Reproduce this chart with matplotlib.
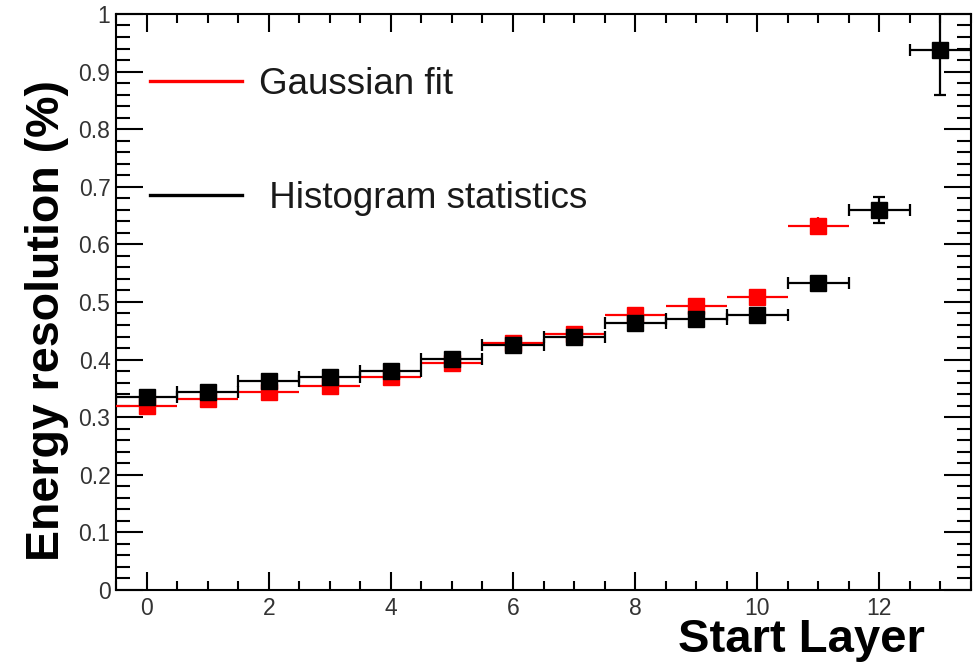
import numpy as np
import matplotlib
matplotlib.use("Agg")
import matplotlib.pyplot as plt
from matplotlib.ticker import MultipleLocator, FuncFormatter

plt.rcParams['font.family'] = ['Liberation Sans', 'DejaVu Sans']

# start layer of the shower
layer_hist = np.arange(14)
layer_fit = np.arange(12)

# resolution from histogram RMS / mean
res_hist = [0.335, 0.343, 0.362, 0.370, 0.381, 0.401, 0.425, 0.440,
            0.463, 0.470, 0.477, 0.533, 0.660, 0.938]
err_hist = [0.004, 0.004, 0.004, 0.004, 0.004, 0.005, 0.005, 0.006,
            0.006, 0.007, 0.008, 0.010, 0.023, 0.078]

# resolution from gaussian fit of the peak
res_fit = [0.319, 0.331, 0.343, 0.354, 0.370, 0.394, 0.428, 0.444,
           0.477, 0.493, 0.509, 0.632]
err_fit = [0.004, 0.004, 0.004, 0.004, 0.004, 0.005, 0.005, 0.006,
           0.006, 0.007, 0.008, 0.016]

bin_half = 0.5

fig = plt.figure(figsize=(9.76, 6.62), dpi=100)
ax = fig.add_axes([0.1189, 0.1088, 0.8760, 0.8701])

ax.errorbar(layer_fit, res_fit, xerr=bin_half, yerr=err_fit, fmt='s',
            color='#ff0000', ms=11.5, elinewidth=1.6, capsize=0,
            label='Gaussian fit', zorder=3)
ax.errorbar(layer_hist, res_hist, xerr=bin_half, yerr=err_hist, fmt='s',
            color='black', ms=11.5, elinewidth=1.6, capsize=4, capthick=1.6,
            label=' Histogram statistics', zorder=4)

ax.set_xlim(-0.5, 13.5)
ax.set_ylim(0, 1)

ax.xaxis.set_major_locator(MultipleLocator(2))
ax.xaxis.set_minor_locator(MultipleLocator(0.5))
ax.yaxis.set_major_locator(MultipleLocator(0.1))
ax.yaxis.set_minor_locator(MultipleLocator(0.02))
ax.yaxis.set_major_formatter(FuncFormatter(lambda v, p: '%g' % round(v, 2)))

for s in ax.spines.values():
    s.set_linewidth(1.5)
ax.tick_params(which='both', direction='in', top=True, right=True,
               width=1.5, labelsize=16.5, labelcolor='#333333')
ax.tick_params(axis='x', which='major', length=13, pad=5)
ax.tick_params(axis='x', which='minor', length=6.5)
ax.tick_params(axis='y', which='major', length=19.5, pad=4)
ax.tick_params(axis='y', which='minor', length=10)

# ROOT-like legend: bare lines, no markers
handles = [plt.Line2D([], [], color='#ff0000', lw=2.4),
           plt.Line2D([], [], color='black', lw=2.4)]
ax.legend(handles, ['Gaussian fit', ' Histogram statistics'],
          loc='upper left', bbox_to_anchor=(0.154, 0.899),
          bbox_transform=fig.transFigure, frameon=False, fontsize=26.5,
          handlelength=2.5, handletextpad=0.45, labelspacing=2.15,
          borderpad=0, borderaxespad=0, labelcolor='#1a1a1a')

fig.text(0.948, 0.015, 'Start Layer', fontsize=34, fontweight='bold',
         ha='right', va='baseline')
fig.text(0.048, 0.5166, 'Energy resolution (%)', fontsize=33.5,
         fontweight='bold', rotation=90, ha='center', va='center')

fig.savefig('out.png', dpi=100)
